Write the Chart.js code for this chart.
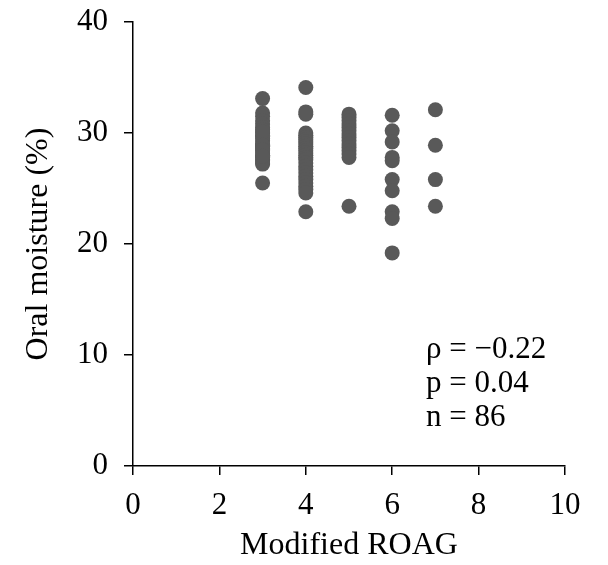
<!DOCTYPE html>
<html><head><meta charset="utf-8">
<script src="https://cdn.jsdelivr.net/npm/chart.js@4"></script>
<style>html,body{margin:0;padding:0;background:#fff}#wrap{width:608px;height:565px}</style>
</head><body><div id="wrap"><canvas id="c" width="608" height="565"></canvas></div>
<script>
const roag3 = [33.1,31.8,31.5,31.1,30.8,30.5,30.3,30.0,29.8,29.5,29.3,29.0,29.0,28.8,28.6,28.4,28.2,28.0,28.0,27.8,27.6,27.5,27.3,27.2,29.7,30.1,28.9,28.5,27.9,25.5];
const roag4 = [34.1,31.9,31.7,30.0,29.8,29.6,29.4,29.2,29.0,28.8,28.6,28.4,28.2,28.0,27.8,27.6,27.3,27.0,26.7,26.4,26.1,25.8,25.5,25.2,24.9,24.6,22.9];
const roag5 = [31.7,31.4,31.1,30.8,30.5,30.2,29.9,29.6,29.3,29.0,28.7,28.4,28.1,27.8,23.4];
const roag6 = [31.6,30.2,29.2,27.8,27.5,25.8,24.8,22.9,22.3,19.2];
const roag7 = [32.1,28.9,25.8,23.4];
const groups = [[3, roag3],[4, roag4],[5, roag5],[6, roag6],[7, roag7]];
const xTicks = [0,2,4,6,8,10];
const yTicks = [0,10,20,30,40];
const statLines = ["\u03C1 = \u22120.22", "p = 0.04", "n = 86"];

const points = [];
groups.forEach(([x, ys]) => ys.forEach(y => points.push({x, y})));

const serif = "'Liberation Serif', 'Times New Roman', serif";

const statPlugin = {
  id: 'stats',
  afterDatasetsDraw(chart) {
    const {ctx, chartArea} = chart;
    ctx.save();
    ctx.fillStyle = '#000';
    ctx.font = "31px " + serif;
    ctx.textBaseline = 'alphabetic';
    ctx.textAlign = 'left';
    statLines.forEach((t, i) => {
      ctx.fillText(t, chartArea.left + 293, chartArea.top + 336 + i * 34);
    });
    ctx.restore();
  }
};

new Chart(document.getElementById('c'), {
  type: 'scatter',
  data: { datasets: [{ data: points, backgroundColor: '#595959', borderWidth: 0, pointRadius: 7.5, pointHoverRadius: 7.5 }] },
  options: {
    responsive: false, animation: false,
    layout: { padding: { top: 22, right: 43, left: 0, bottom: 0 } },
    plugins: { legend: { display: false }, tooltip: { enabled: false } },
    scales: {
      x: {
        type: 'linear', min: 0, max: 10,
        afterBuildTicks: s => { s.ticks = xTicks.map(v => ({value: v})); },
        afterFit: s => { s.height = 99; s.paddingLeft = 0; s.paddingRight = 0; },
        grid: { drawOnChartArea: false, tickLength: 9, color: '#000', lineWidth: 1.5 },
        border: { color: '#000', width: 1.5 },
        ticks: { color: '#000', font: { family: serif, size: 31 }, padding: 12, maxRotation: 0 },
        title: { display: true, text: 'Modified ROAG', color: '#000', font: { family: serif, size: 32 }, padding: { top: 0, bottom: 0 } }
      },
      y: {
        type: 'linear', min: 0, max: 40,
        afterBuildTicks: s => { s.ticks = yTicks.map(v => ({value: v})); },
        afterFit: s => { s.width = 133; s.paddingTop = 0; s.paddingBottom = 0; },
        grid: { drawOnChartArea: false, tickLength: 9, color: '#000', lineWidth: 1.5 },
        border: { color: '#000', width: 1.5 },
        ticks: { color: '#000', font: { family: serif, size: 31 }, padding: 16 },
        title: { display: true, text: 'Oral moisture (%)', color: '#000', font: { family: serif, size: 32 }, padding: { top: 19, bottom: 0 } }
      }
    }
  },
  plugins: [statPlugin]
});
</script></body></html>
